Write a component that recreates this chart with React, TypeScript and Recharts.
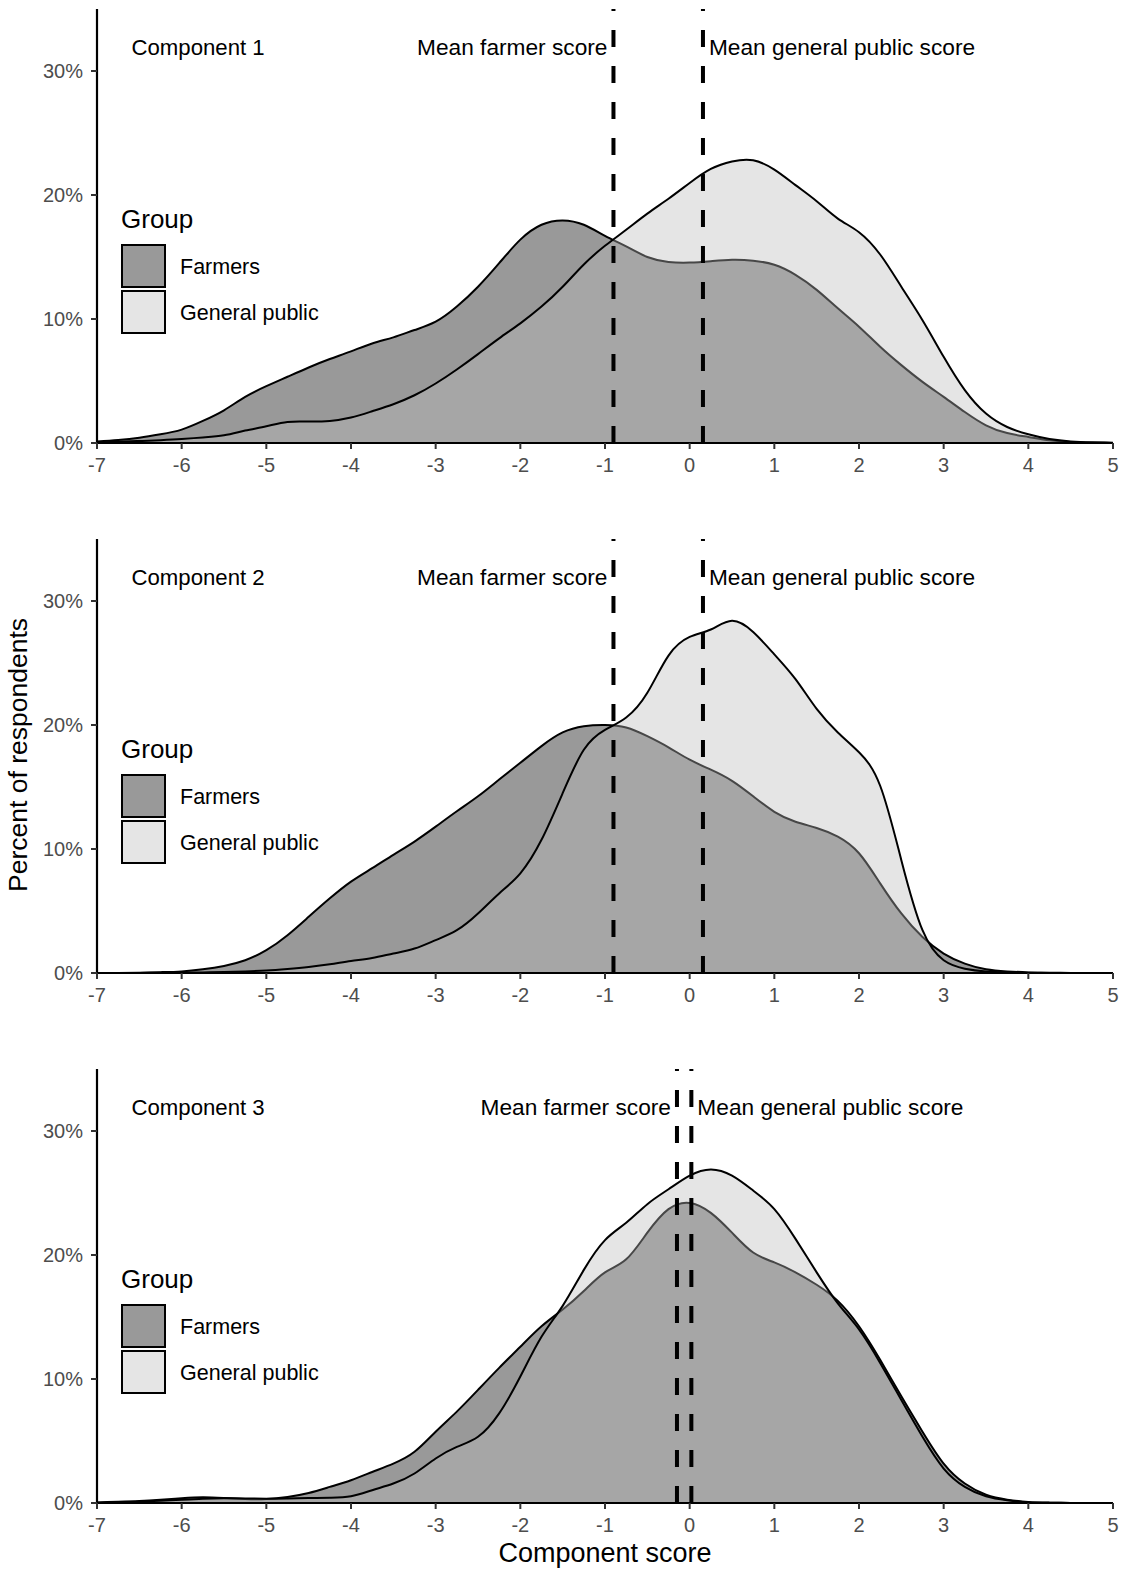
import React from 'react';
import { AreaChart, Area, XAxis, YAxis, ReferenceLine } from 'recharts';

const FONT = '"Liberation Sans", Arial, Helvetica, sans-serif';

// sample points of the density curves (component score)
const scoreGrid = [
  -7,
  -6.75, -6.5, -6.25, -6,
  -5.75, -5.5, -5.25, -5,
  -4.75, -4.5, -4.25, -4,
  -3.75, -3.5, -3.25, -3,
  -2.75, -2.5, -2.25, -2,
  -1.75, -1.5, -1.25, -1,
  -0.75, -0.5, -0.25, 0,
  0.25, 0.5, 0.75, 1,
  1.25, 1.5, 1.75, 2,
  2.25, 2.5, 2.75, 3,
  3.25, 3.5, 3.75, 4,
  4.25, 4.5, 4.75, 5,
];

const scoreTicks = [-7, -6, -5, -4, -3, -2, -1, 0, 1, 2, 3, 4, 5];
const percentTicks = [0, 10, 20, 30];

// Component 1 (percent of respondents)
const c1Farmers = [
  0.13,
  0.25, 0.43, 0.7, 1.08,
  1.78, 2.64, 3.72, 4.58,
  5.34, 6.09, 6.77, 7.39,
  8.03, 8.52, 9.11, 9.78,
  11.0, 12.6, 14.5, 16.4,
  17.6, 17.95, 17.6, 16.7,
  15.85, 15.0, 14.6, 14.55,
  14.66, 14.77, 14.7, 14.37,
  13.56, 12.35, 10.86, 9.38,
  7.76, 6.28, 4.93, 3.72,
  2.5, 1.43, 0.8, 0.49,
  0.22, 0.08, 0.03, 0.01,
];
const c1Public = [
  0.05,
  0.1, 0.16, 0.23, 0.32,
  0.45, 0.62, 1.0, 1.35,
  1.7, 1.73, 1.78, 2.05,
  2.56, 3.13, 3.85, 4.8,
  5.93, 7.17, 8.44, 9.65,
  11.0, 12.6, 14.4, 15.9,
  17.2, 18.5, 19.7, 20.97,
  22.1, 22.7, 22.8, 22.05,
  20.8, 19.5, 18.1, 17.0,
  15.2, 12.6, 9.9, 6.95,
  4.26, 2.37, 1.29, 0.7,
  0.32, 0.13, 0.06, 0.03,
];

// Component 2
const c2Farmers = [
  0,
  0.01, 0.03, 0.07, 0.13,
  0.3, 0.57, 1.03, 1.84,
  3.05, 4.53, 6.02, 7.37,
  8.45, 9.53, 10.6, 11.8,
  13.04, 14.25, 15.6, 16.95,
  18.3, 19.4, 19.9, 20.0,
  19.8, 19.1, 18.2, 17.2,
  16.4, 15.5, 14.25, 13.0,
  12.2, 11.7, 11.0, 9.66,
  7.23, 4.8, 2.9, 1.57,
  0.76, 0.3, 0.13, 0.05,
  0.02, 0.01, 0, 0,
];
const c2Public = [
  0,
  0, 0.01, 0.02, 0.03,
  0.05, 0.08, 0.13, 0.2,
  0.33, 0.49, 0.7, 0.97,
  1.21, 1.57, 1.97, 2.65,
  3.45, 4.8, 6.42, 8.04,
  10.74, 14.5, 18.0, 19.6,
  20.6, 22.6, 25.6, 27.1,
  27.7, 28.4, 27.5, 25.7,
  23.7, 21.3, 19.4, 17.8,
  15.1, 9.1, 3.45, 1.03,
  0.35, 0.13, 0.06, 0.03,
  0.01, 0, 0, 0,
];

// Component 3
const c3Farmers = [
  0.05,
  0.1, 0.16, 0.26, 0.38,
  0.46, 0.4, 0.32, 0.32,
  0.49, 0.81, 1.3, 1.84,
  2.5, 3.18, 4.13, 5.75,
  7.37, 9.12, 10.9, 12.6,
  14.25, 15.6, 17.1, 18.6,
  19.65, 21.8, 23.7, 24.2,
  23.4, 21.8, 20.2, 19.4,
  18.6, 17.6, 16.3, 14.25,
  11.55, 8.6, 5.75, 3.18,
  1.57, 0.67, 0.27, 0.08,
  0.03, 0.01, 0, 0,
];
const c3Public = [
  0.03,
  0.06, 0.1, 0.18, 0.27,
  0.35, 0.38, 0.37, 0.35,
  0.37, 0.4, 0.43, 0.54,
  1.03, 1.57, 2.38, 3.59,
  4.53, 5.34, 7.23, 10.2,
  13.4, 15.9, 18.8, 21.2,
  22.6, 24.1, 25.3, 26.4,
  26.9, 26.4, 25.2, 23.7,
  21.3, 18.6, 16.1, 14.0,
  11.3, 8.3, 5.34, 2.78,
  1.3, 0.54, 0.22, 0.05,
  0.02, 0.01, 0, 0,
];

const componentNames = ['Component 1', 'Component 2', 'Component 3'];
const farmerMeans = [-0.9, -0.9, -0.15];
const publicMeans = [0.157, 0.157, 0.02];
const groupLabels = ['Farmers', 'General public'];

const farmersSeries = [c1Farmers, c2Farmers, c3Farmers];
const publicSeries = [c1Public, c2Public, c3Public];

const buildRows = (f: number[], p: number[]) =>
  scoreGrid.map((x, i) => ({ x, farmers: f[i], public: p[i] }));

const PANEL_TOPS = [0, 530, 1060];

const meanLabel = (text: string, side: 'left' | 'right') => (props: any) => {
  const vb = props.viewBox || {};
  const x = side === 'left' ? vb.x - 6 : vb.x + 6;
  return (
    <text
      x={x}
      y={vb.y + 46}
      textAnchor={side === 'left' ? 'end' : 'start'}
      fontSize={22.7}
      fontFamily={FONT}
      fill="#000"
    >
      {text}
    </text>
  );
};

function Panel({ idx }: { idx: number }) {
  const data = buildRows(farmersSeries[idx], publicSeries[idx]);
  return (
    <div style={{ position: 'absolute', left: 0, top: PANEL_TOPS[idx], width: 1125, height: 500 }}>
      <AreaChart
        width={1125}
        height={500}
        data={data}
        margin={{ top: 9, right: 12, bottom: 27, left: 37 }}
      >
        <XAxis
          type="number"
          dataKey="x"
          domain={[-7, 5]}
          ticks={scoreTicks}
          interval={0}
          allowDataOverflow
          height={30}
          tickSize={6}
          tickMargin={9}
          tick={{ fill: '#4d4d4d', fontSize: 20, fontFamily: FONT }}
          axisLine={{ stroke: '#000', strokeWidth: 2.2 }}
          tickLine={{ stroke: '#333', strokeWidth: 2 }}
        />
        <YAxis
          type="number"
          domain={[0, 35]}
          ticks={percentTicks}
          interval={0}
          allowDataOverflow
          width={60}
          tickSize={6}
          tickMargin={8}
          tickFormatter={(v: number) => `${v}%`}
          tick={{ fill: '#4d4d4d', fontSize: 20, fontFamily: FONT }}
          axisLine={{ stroke: '#000', strokeWidth: 2.2 }}
          tickLine={{ stroke: '#333', strokeWidth: 2 }}
        />
        <Area
          type="natural"
          dataKey="farmers"
          fill="#999999"
          fillOpacity={1}
          stroke="#000"
          strokeWidth={2}
          dot={false}
          activeDot={false}
          isAnimationActive={false}
        />
        <Area
          type="natural"
          dataKey="public"
          fill="#bbbbbb"
          fillOpacity={0.38}
          stroke="#000"
          strokeWidth={2}
          dot={false}
          activeDot={false}
          isAnimationActive={false}
        />
        <ReferenceLine
          x={farmerMeans[idx]}
          stroke="#000"
          strokeWidth={4}
          strokeDasharray="17 19"
          label={meanLabel('Mean farmer score', 'left')}
        />
        <ReferenceLine
          x={publicMeans[idx]}
          stroke="#000"
          strokeWidth={4}
          strokeDasharray="17 19"
          label={meanLabel('Mean general public score', 'right')}
        />
      </AreaChart>
    </div>
  );
}

function Overlay() {
  return (
    <svg
      width={1125}
      height={1570}
      style={{ position: 'absolute', left: 0, top: 0, pointerEvents: 'none' }}
    >
      {PANEL_TOPS.map((t, i) => (
        <g key={i} fontFamily={FONT}>
          <text x={131.5} y={t + 55} fontSize={22.2} fill="#000">{componentNames[i]}</text>
          <text x={121} y={t + 228} fontSize={26} fill="#000">Group</text>
          <rect x={122} y={t + 245} width={43} height={42} fill="#999999" stroke="#000" strokeWidth={2} />
          <rect x={122} y={t + 291} width={43} height={42} fill="#e5e5e5" stroke="#000" strokeWidth={2} />
          <text x={180} y={t + 274} fontSize={21.5} fill="#000">{groupLabels[0]}</text>
          <text x={180} y={t + 320} fontSize={21.5} fill="#000">{groupLabels[1]}</text>
        </g>
      ))}
      <text
        x={27}
        y={755}
        transform="rotate(-90 27 755)"
        textAnchor="middle"
        fontSize={26.5}
        fontFamily={FONT}
        fill="#000"
      >
        Percent of respondents
      </text>
      <text x={605} y={1562} textAnchor="middle" fontSize={27} fontFamily={FONT} fill="#000">
        Component score
      </text>
    </svg>
  );
}

export default function App() {
  return (
    <div style={{ position: 'absolute', left: 0, top: 0, width: 1125, height: 1570, background: '#fff' }}>
      {[0, 1, 2].map((i) => (
        <Panel key={i} idx={i} />
      ))}
      <Overlay />
    </div>
  );
}
